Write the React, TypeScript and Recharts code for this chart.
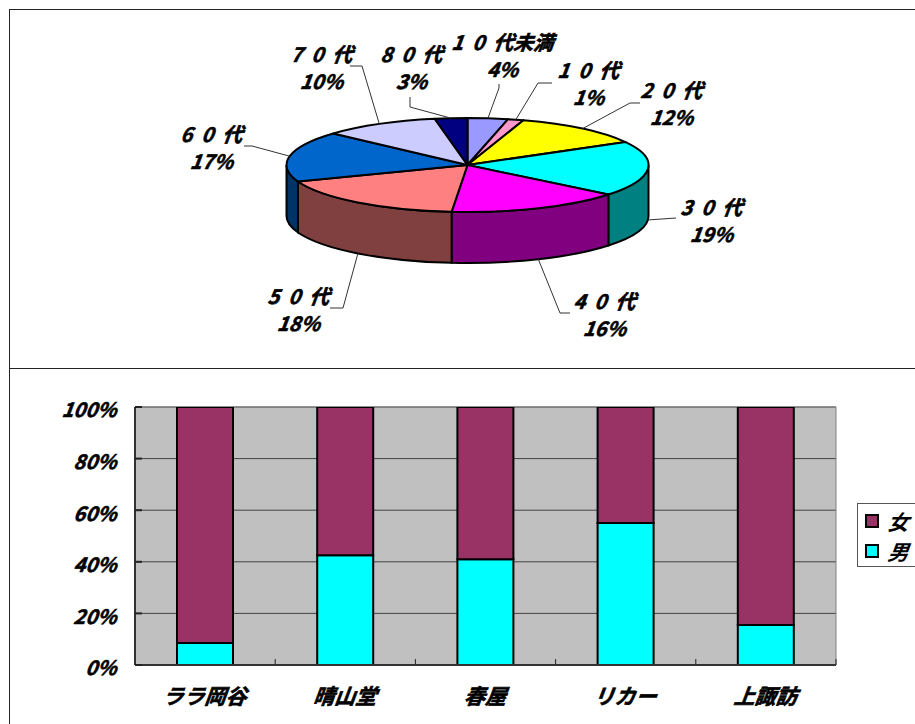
import React from "react";
import {
  PieChart, Pie, BarChart, Bar, XAxis, YAxis, CartesianGrid, Legend, ReferenceLine, ReferenceArea,
} from "recharts";

// ---- pie data ----
const ageNames = ["10代未満", "10代", "20代", "30代", "40代", "50代", "60代", "70代", "80代"];
const ageShares = [3.6, 1.4, 11.9, 18.9, 15.6, 17.9, 17.4, 10.4, 2.9];
const topColors = ["#9999FF", "#FF99CC", "#FFFF00", "#00FFFF", "#FF00FF", "#FF8080", "#0066CC", "#CCCCFF", "#000080"];
const wallColors = ["#4C4C80", "#804C66", "#808000", "#008080", "#800080", "#804040", "#003366", "#666680", "#000040"];
// elbow of the leader line, then centre of the label text
const elbowX = [499, 538, 630, 676, 560, 343, 252, 362, 410];
const elbowY = [88, 83, 103, 218, 313, 308, 146, 66, 107];
const endX = [499, 552, 640, 676, 570, 330, 244, 350, 410];
const endY = [84, 83, 103, 218, 313, 308, 146, 66, 97];
const labelX = [503, 589, 672, 712, 605, 299, 212, 322, 412];
const labelY = [41, 69, 89, 206, 300, 295, 133, 53, 53];

// ---- bar data ----
const shops = ["ララ岡谷", "晴山堂", "春屋", "リカー", "上諏訪"];
const maleShare = [8.5, 42.5, 41, 55, 15.5];
const femaleShare = [91.5, 57.5, 59, 45, 84.5];
const percentTicks = [0, 20, 40, 60, 80, 100];

const pieData = ageNames.map((name, i) => ({ name, value: ageShares[i] }));
const barData = shops.map((shop, i) => ({ shop, 男: maleShare[i], 女: femaleShare[i] }));

const FONT = '"Noto Sans CJK JP", "Noto Sans", sans-serif';
const RX = 181;
const RY = 47;
const DEPTH = 51;
const RAD = Math.PI / 180;
const ell = (cx: number, cy: number, theta: number, rx = RX, ry = RY) => ({
  x: cx + rx * Math.sin(theta * RAD),
  y: cy - ry * Math.cos(theta * RAD),
});

const textStyle = (fontSize: number): React.CSSProperties => ({
  fontFamily: FONT,
  fontWeight: 700,
  fontStyle: "italic",
  fontSize,
  stroke: "#000",
  strokeWidth: 0.6,
});
const slant = (x: number, y: number) => `translate(${x},${y}) skewX(-7)`;

function EllipseSector(props: any) {
  const { cx, cy, startAngle, endAngle, name, payload } = props;
  const i = ageNames.indexOf(name ?? payload?.name);
  const t0 = 90 - startAngle;
  const t1 = 90 - endAngle;
  const a = ell(cx, cy, t0);
  const b = ell(cx, cy, t1);
  const large = t1 - t0 > 180 ? 1 : 0;
  const wa = Math.max(t0, 90);
  const wb = Math.min(t1, 270);
  let wall: React.ReactNode = null;
  if (wa < wb) {
    const p = ell(cx, cy, wa);
    const q = ell(cx, cy, wb);
    wall = (
      <path
        d={`M${p.x},${p.y} A${RX},${RY} 0 0 1 ${q.x},${q.y} L${q.x},${q.y + DEPTH} A${RX},${RY} 0 0 0 ${p.x},${p.y + DEPTH} Z`}
        fill={wallColors[i]}
        stroke="#000"
        strokeWidth={2}
      />
    );
  }
  return (
    <g>
      {wall}
      <path
        d={`M${cx},${cy} L${a.x},${a.y} A${RX},${RY} 0 ${large} 1 ${b.x},${b.y} Z`}
        fill={topColors[i]}
        stroke="#000"
        strokeWidth={2}
        strokeLinejoin="round"
      />
    </g>
  );
}

function spacedName(name: string) {
  return name.split(/(\d+)/).filter(Boolean).map((part, k) =>
    /\d/.test(part)
      ? part.split("").map((d, j) => (
          <tspan key={`${k}-${j}`} letterSpacing={9}>{d}</tspan>
        ))
      : <tspan key={k}>{part}</tspan>
  );
}

function PieLabel(props: any) {
  const { cx, cy, midAngle, name, percent, payload } = props;
  const nm = name ?? payload?.name;
  const i = ageNames.indexOf(nm);
  const theta = 90 - midAngle;
  const norm = ((theta % 360) + 360) % 360;
  const edge = ell(cx, cy, norm);
  const ax = edge.x;
  const ay = norm > 90 && norm < 270 ? edge.y + DEPTH : edge.y;
  const pct = `${Math.round(percent * 100)}%`;
  return (
    <g>
      <polyline
        points={`${ax},${ay} ${elbowX[i]},${elbowY[i]} ${endX[i]},${endY[i]}`}
        fill="none"
        stroke="#333"
        strokeWidth={1}
      />
      <text transform={slant(labelX[i], labelY[i])} textAnchor="middle" dominantBaseline="central" style={textStyle(20)} fill="#000">
        {spacedName(nm)}
      </text>
      <text transform={slant(labelX[i], labelY[i] + 28)} textAnchor="middle" dominantBaseline="central" style={textStyle(20)} fill="#000">
        {pct}
      </text>
    </g>
  );
}

function YTick(props: any) {
  const { x, y, payload } = props;
  return (
    <text transform={slant(x, y + 2)} textAnchor="end" dominantBaseline="central" style={textStyle(20)} fill="#000">
      {`${payload.value}%`}
    </text>
  );
}

function XTick(props: any) {
  const { x, y, payload } = props;
  return (
    <text transform={slant(x, y + 22)} textAnchor="middle" dominantBaseline="central" style={textStyle(21)} fill="#000">
      {payload.value}
    </text>
  );
}

function LegendBox(props: any) {
  const items = props.payload ?? [];
  return (
    <div style={{ border: "1px solid #555", background: "#fff", width: 70, height: 64, boxSizing: "border-box", paddingTop: 2, paddingLeft: 7 }}>
      {items.map((it: any) => (
        <div key={it.value} style={{ display: "flex", alignItems: "center", height: 30 }}>
          <span style={{ width: 10, height: 10, background: it.color, border: "2px solid #000", boxSizing: "content-box", display: "inline-block", marginRight: 9 }} />
          <span style={{ fontFamily: FONT, fontWeight: 700, fontStyle: "italic", fontSize: 21, color: "#000", lineHeight: "30px", transform: "skewX(-7deg)", display: "inline-block" }}>{it.value}</span>
        </div>
      ))}
    </div>
  );
}

export default function App() {
  return (
    <div style={{ position: "absolute", left: 0, top: 0, width: 915, height: 724, overflow: "hidden", background: "#fff" }}>
      <div style={{ position: "absolute", left: 9, top: 9, width: 906, height: 1, background: "#222" }} />
      <div style={{ position: "absolute", left: 9, top: 368, width: 906, height: 1, background: "#222" }} />
      <div style={{ position: "absolute", left: 9, top: 9, width: 1, height: 715, background: "#222" }} />

      <div style={{ position: "absolute", left: 0, top: 0 }}>
        <PieChart width={915} height={368} margin={{ top: 0, right: 0, bottom: 0, left: 0 }}>
          <Pie
            data={pieData}
            dataKey="value"
            nameKey="name"
            cx={467.5}
            cy={165}
            outerRadius={RX}
            startAngle={90}
            endAngle={-270}
            isAnimationActive={false}
            shape={EllipseSector}
            label={PieLabel}
            labelLine={false}
          />
        </PieChart>
      </div>

      <div style={{ position: "absolute", left: 0, top: 369 }}>
        <BarChart
          width={915}
          height={355}
          data={barData}
          margin={{ top: 38, right: 79, bottom: 0, left: 0 }}
        >
          <CartesianGrid vertical={false} fill="#C0C0C0" stroke="#444" strokeWidth={1} />
          <ReferenceArea y1={0} y2={100} fill="none" stroke="#808080" strokeWidth={1} />
          <XAxis dataKey="shop" height={59} axisLine={{ stroke: "#333", strokeWidth: 2 }} tickLine={false} tick={<XTick />} interval={0} />
          <YAxis
            width={135}
            domain={[0, 100]}
            ticks={percentTicks}
            allowDataOverflow
            axisLine={{ stroke: "#333", strokeWidth: 2 }}
            tickLine={{ stroke: "#222", strokeWidth: 2 }}
            tickSize={-7}
            tickMargin={25}
            tick={<YTick />}
          />
          {shops.slice(1).map((s) => (
            <ReferenceLine key={s} segment={[{ x: s, y: 0 }, { x: s, y: 2.3 }]} position="start" stroke="#222" strokeWidth={1} />
          ))}
          <ReferenceLine segment={[{ x: shops[4], y: 0 }, { x: shops[4], y: 2.3 }]} position="end" stroke="#222" strokeWidth={1} />
          <Bar dataKey="男" stackId="a" fill="#00FFFF" stroke="#000" strokeWidth={2} barSize={56} isAnimationActive={false} />
          <Bar dataKey="女" stackId="a" fill="#993366" stroke="#000" strokeWidth={2} barSize={56} isAnimationActive={false} />
          <Legend
            layout="vertical"
            align="center"
            verticalAlign="middle"
            content={<LegendBox />}
            wrapperStyle={{ position: "absolute", left: 857, top: 134, width: 70 }}
          />
        </BarChart>
      </div>
    </div>
  );
}
